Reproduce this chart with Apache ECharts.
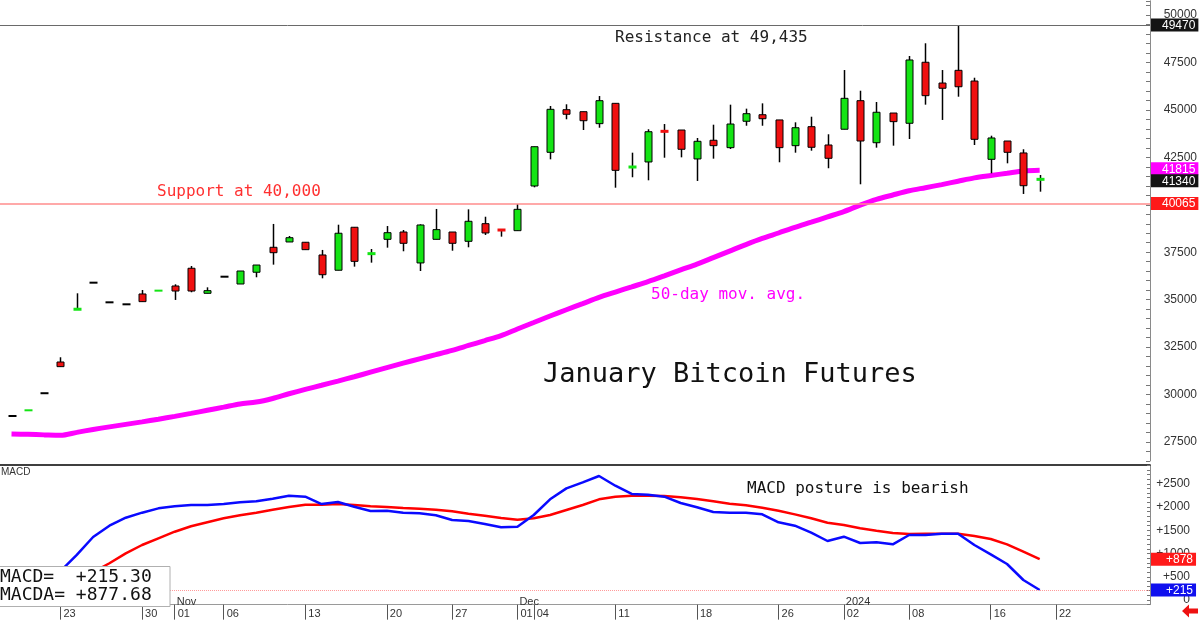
<!DOCTYPE html>
<html>
<head>
<meta charset="utf-8">
<title>January Bitcoin Futures</title>
<script src="https://cdn.jsdelivr.net/npm/echarts@6/dist/echarts.min.js"></script>
<style>
  html, body { margin: 0; padding: 0; background: #fff; }
  #chart { width: 1200px; height: 621px; }
</style>
</head>
<body>
<div id="chart"></div>
<script>
// daily bars, Oct 18 2023 .. Jan 19 2024 (index = trading day)
const opens = [28870, 29170, 30070, 31715, 34495, 35895, 34860, 34755, 35300, 35475,
  35720, 36655, 35335, 36210, 35825, 36445, 37760, 38040, 38025, 37355,
  36550, 38815, 37425, 38180, 38565, 36935, 38180, 38565, 38075, 39005,
  38670, 38635, 40990, 42765, 45010, 44905, 44275, 45345, 41990, 42255,
  43870, 43940, 42415, 43400, 43010, 44400, 44745, 44470, 43115, 44115,
  43150, 43980, 45485, 43270, 44835, 44295, 47510, 46415, 47085, 46520,
  42395, 43360, 42730, 41340];
const closes = [28870, 29170, 30070, 31470, 34495, 35895, 34860, 34755, 34895, 35475,
  35455, 35455, 35475, 36210, 36510, 36825, 37475, 38265, 37635, 36315,
  38500, 37020, 37425, 38530, 37970, 38935, 38690, 37970, 39130, 38515,
  38670, 39760, 43060, 45030, 44770, 44430, 45485, 41815, 41990, 43850,
  43870, 42925, 43345, 43115, 44255, 44800, 44535, 43010, 44060, 43030,
  42450, 45610, 43360, 44875, 44380, 47630, 45750, 46140, 46220, 43450,
  43520, 42765, 41005, 41340];
const lows = [28870, 29170, 30070, 31470, 34495, 35895, 34860, 34755, 34895, 35475,
  34985, 35390, 35335, 36210, 35825, 36180, 36845, 38040, 37635, 36125,
  36550, 36740, 36950, 37740, 37550, 36510, 38180, 37580, 37760, 38410,
  38320, 38635, 40920, 42395, 44505, 43940, 44060, 40900, 41450, 41290,
  42480, 42500, 41255, 42430, 42940, 44165, 44165, 42240, 42745, 42850,
  41925, 43980, 41080, 43010, 43115, 43465, 45275, 44470, 45695, 43150,
  41660, 42185, 40570, 40690];
const highs = [28870, 29170, 30070, 31965, 35335, 35895, 34860, 34755, 35510, 35475,
  35810, 36775, 35650, 36210, 36510, 36825, 38990, 38355, 38025, 37620,
  38950, 38815, 37670, 38880, 38670, 38970, 39780, 38565, 39760, 39370,
  38700, 40040, 43060, 45205, 45295, 44905, 45730, 45345, 42745, 43980,
  44255, 43940, 43520, 44220, 45275, 45065, 45345, 44470, 44345, 44640,
  43715, 47100, 46010, 45415, 44835, 47840, 48510, 47100, 49470, 46695,
  43640, 43360, 42925, 41570];
// colour of the bars where open == close
const dojiTone = ['k', 'g', 'k', '', 'g', 'k', 'k', 'k', '', 'g',
  '', '', '', 'k', '', '', '', '', '', '',
  '', '', 'g', '', '', '', '', '', '', '',
  'r', '', '', '', '', '', '', '', 'g', '',
  'r', '', '', '', '', '', '', '', '', '',
  '', '', '', '', '', '', '', '', '', '',
  '', '', '', 'g'];

const ma50 = [27923, 27902, 27875, 27854, 28007, 28160, 28297, 28429, 28561, 28703,
  28850, 29008, 29171, 29335, 29503, 29603, 29793, 30041, 30273, 30489,
  30710, 30937, 31179, 31421, 31653, 31880, 32101, 32328, 32586, 32844,
  33107, 33455, 33798, 34140, 34467, 34793, 35120, 35400, 35674, 35948,
  36253, 36569, 36875, 37217, 37560, 37902, 38224, 38513, 38809, 39083,
  39362, 39641, 39984, 40284, 40516, 40737, 40900, 41064, 41243, 41417,
  41543, 41659, 41775, 41815];

const macd = [null, null, 250, 620, 970, 1355, 1598, 1770, 1878, 1971,
  2014, 2043, 2043, 2064, 2101, 2122, 2179, 2243, 2222, 2064,
  2108, 2007, 1914, 1921, 1877, 1864, 1821, 1720, 1699, 1634,
  1563, 1577, 1828, 2165, 2401, 2530, 2667, 2458, 2280, 2265,
  2222, 2086, 1993, 1892, 1878, 1878, 1842, 1670, 1598, 1448,
  1269, 1362, 1226, 1240, 1197, 1398, 1398, 1426, 1426, 1183,
  982, 774, 430, 215.30];
const macdAvg = [null, null, null, 260, 420, 600, 790, 1004, 1183, 1327,
  1469, 1585, 1671, 1757, 1822, 1878, 1942, 2000, 2050, 2050,
  2064, 2043, 2014, 2000, 1978, 1964, 1942, 1907, 1857, 1814,
  1763, 1728, 1756, 1828, 1935, 2043, 2165, 2222, 2244, 2244,
  2236, 2208, 2172, 2122, 2072, 2036, 1985, 1921, 1842, 1757,
  1663, 1613, 1542, 1491, 1441, 1419, 1426, 1426, 1426, 1376,
  1312, 1197, 1039, 877.68];

// date axis
const tickDays = [3, 8, 10, 13, 18, 23, 27, 31, 32, 37, 42, 47, 51, 55, 60, 64];
const tickLabels = ['23', '30', '01', '06', '13', '20', '27', '01', '04', '11', '18', '26', '02', '08', '16', '22'];
const monthDays = [10, 31, 51];
const monthLabels = ['Nov', 'Dec', '2024'];

// levels marked on the price scale
const resistance = 49470;
const support = 40065;
const lastClose = 41340;
const lastMa = 41815;

const GREEN = '#14e414';
const RED = '#f01010';
const MAGENTA = '#ff00ff';
const NO_LINE = 'rgba(0,0,0,0)';
const MONO = '"DejaVu Sans Mono", "Liberation Mono", monospace';
const SANS = '"Liberation Sans", Arial, sans-serif';

const X_MIN = -0.705;
const X_MAX = 69.76;

const chart = echarts.init(document.getElementById('chart'), null, { renderer: 'canvas' });

const toneColor = { k: '#000', g: GREEN, r: RED };

function renderCandle(params, api) {
  const i = api.value(0);
  const o = api.value(1);
  const c = api.value(2);
  const lo = api.value(3);
  const hi = api.value(4);
  const cx = Math.round(api.coord([i, o])[0]) + 0.5;
  const yO = api.coord([i, o])[1];
  const yC = api.coord([i, c])[1];
  const yL = api.coord([i, lo])[1];
  const yH = api.coord([i, hi])[1];
  const children = [];

  if (hi > lo) {
    children.push({
      type: 'line',
      shape: { x1: cx, y1: yH, x2: cx, y2: yL },
      style: { stroke: '#000', lineWidth: 1.5 }
    });
  }

  if (o !== c) {
    const top = Math.min(yO, yC);
    children.push({
      type: 'rect',
      shape: { x: cx - 3.5, y: top, width: 7, height: Math.abs(yC - yO) },
      style: { fill: c > o ? GREEN : RED, stroke: '#000', lineWidth: 1 }
    });
  } else {
    const tone = toneColor[dojiTone[params.dataIndex]] || '#000';
    const thick = hi > lo ? 3 : 2;
    children.push({
      type: 'rect',
      shape: { x: cx - 4, y: yO - thick / 2, width: 8, height: thick },
      style: { fill: tone }
    });
  }
  return { type: 'group', children };
}

// value tag just right of the scale; shift > 0 lifts the tag, < 0 lowers it
function sideLabel(text, bg, padLeft, shift = 0) {
  return {
    show: true,
    position: 'end',
    distance: 1,
    formatter: '{v|' + text + '}',
    padding: shift > 0 ? [0, 0, 2 * shift, 0] : [-2 * shift, 0, 0, 0],
    rich: {
      v: {
        color: '#fff',
        fontFamily: SANS,
        fontSize: 12,
        lineHeight: 11,
        backgroundColor: bg,
        padding: [1, 3, 0, padLeft]
      }
    }
  };
}

const hiddenX = (gridIndex) => ({
  type: 'value', gridIndex, min: X_MIN, max: X_MAX, show: false
});

const option = {
  backgroundColor: '#fff',
  animation: false,
  grid: [
    // price panel: 50000 sits at y=15, 0.018978 px per point
    { left: 0, right: 50, top: 0.77, height: 460.2, outerBoundsMode: 'none' },
    // MACD panel: 0 sits at y=600, 0.0465 px per point
    { left: 0, right: 50, top: 465.15, height: 139.5, outerBoundsMode: 'none' }
  ],
  xAxis: [
    hiddenX(0),
    {
      type: 'value', gridIndex: 1, min: X_MIN, max: X_MAX, position: 'bottom',
      axisLine: { show: true, onZero: false, lineStyle: { color: '#9a9a9a', width: 1 } },
      axisTick: { show: true, length: 15, customValues: tickDays, lineStyle: { color: '#555', width: 1 } },
      axisLabel: {
        customValues: tickDays,
        formatter: (v) => tickLabels[tickDays.indexOf(v)] || '',
        align: 'left',
        padding: [0, 0, 0, 3],
        margin: 4,
        fontFamily: SANS,
        fontSize: 11,
        color: '#333'
      },
      splitLine: { show: false }
    },
    {
      type: 'value', gridIndex: 1, min: X_MIN, max: X_MAX, position: 'bottom',
      axisLine: { show: false },
      axisTick: { show: false },
      axisLabel: {
        inside: true,
        customValues: monthDays,
        formatter: (v) => monthLabels[monthDays.indexOf(v)] || '',
        align: 'left',
        padding: [0, 0, 0, 2],
        margin: -3,
        fontFamily: SANS,
        fontSize: 11,
        color: '#333'
      },
      splitLine: { show: false }
    },
    {
      type: 'value', gridIndex: 1, min: X_MIN, max: X_MAX, position: 'top',
      axisLine: { show: true, onZero: false, lineStyle: { color: '#000', width: 1.5 } },
      axisTick: { show: false },
      axisLabel: { show: false },
      splitLine: { show: false }
    }
  ],
  yAxis: [
    {
      type: 'value', gridIndex: 0, position: 'right',
      min: 26500, max: 50750, interval: 500,
      axisLine: { show: true, onZero: false, lineStyle: { color: '#8a8a8a' } },
      axisTick: { show: true, inside: true, length: 4, lineStyle: { color: '#777' } },
      axisLabel: {
        formatter: (v) => (v % 2500 === 0 ? String(v) : ''),
        align: 'right',
        margin: 47,
        fontFamily: SANS,
        fontSize: 12,
        color: '#333'
      },
      splitLine: { show: false }
    },
    {
      type: 'value', gridIndex: 1, position: 'right',
      min: -100, max: 2900, interval: 100,
      axisLine: { show: true, onZero: false, lineStyle: { color: '#8a8a8a' } },
      axisTick: { show: true, inside: true, length: 3, lineStyle: { color: '#777' } },
      axisLabel: {
        formatter: (v) => (v % 500 === 0 && v >= 0 ? (v > 0 ? '+' + v : '0') : ''),
        align: 'right',
        margin: 40,
        fontFamily: SANS,
        fontSize: 12,
        color: '#333'
      },
      splitLine: { show: false }
    }
  ],
  series: [
    {
      name: '50-day',
      type: 'line',
      xAxisIndex: 0,
      yAxisIndex: 0,
      data: ma50.map((v, i) => [i, v]),
      smooth: 0.3,
      showSymbol: false,
      lineStyle: { color: MAGENTA, width: 5 },
      z: 1,
      markLine: {
        silent: true,
        symbol: 'none',
        animation: false,
        data: [
          { yAxis: resistance, lineStyle: { color: '#6a6a6a', width: 1, type: 'solid' },
            label: sideLabel(String(resistance), '#141414', 11) },
          { yAxis: support, lineStyle: { color: '#ff8c8c', width: 1.5, type: 'solid' },
            label: sideLabel(String(support), '#ff1a1a', 11) },
          { yAxis: lastMa, lineStyle: { color: NO_LINE, width: 0 },
            label: sideLabel(String(lastMa), MAGENTA, 11, 1.5) },
          { yAxis: lastClose, lineStyle: { color: NO_LINE, width: 0 },
            label: sideLabel(String(lastClose), '#141414', 11, -1.5) }
        ]
      }
    },
    {
      name: 'candles',
      type: 'custom',
      xAxisIndex: 0,
      yAxisIndex: 0,
      renderItem: renderCandle,
      encode: { x: 0, y: [1, 2, 3, 4] },
      data: opens.map((o, i) => [i, o, closes[i], lows[i], highs[i]]),
      z: 3
    },
    {
      name: 'MACDA',
      type: 'line',
      xAxisIndex: 1,
      yAxisIndex: 1,
      data: macdAvg.map((v, i) => [i, v]),
      showSymbol: false,
      lineStyle: { color: '#ff0000', width: 2.5 },
      markLine: {
        silent: true,
        symbol: 'none',
        animation: false,
        data: [
          { yAxis: macdAvg[macdAvg.length - 1], lineStyle: { color: NO_LINE, width: 0 },
            label: sideLabel('+' + Math.round(macdAvg[macdAvg.length - 1]), '#ff1a1a', 15) }
        ]
      }
    },
    {
      name: 'MACD',
      type: 'line',
      xAxisIndex: 1,
      yAxisIndex: 1,
      data: macd.map((v, i) => [i, v]),
      showSymbol: false,
      lineStyle: { color: '#0a0aff', width: 2.5 },
      markLine: {
        silent: true,
        symbol: 'none',
        animation: false,
        data: [
          { yAxis: macd[macd.length - 1], lineStyle: { color: '#ff9a9a', width: 1, type: 'dotted' },
            label: sideLabel('+' + Math.round(macd[macd.length - 1]), '#1010ee', 15) }
        ]
      }
    }
  ],
  graphic: [
    { type: 'text', x: 615, y: 38, z: 50,
      style: { text: 'Resistance at 49,435', font: '16px ' + MONO, fill: '#222', verticalAlign: 'middle' } },
    { type: 'text', x: 157, y: 192, z: 50,
      style: { text: 'Support at 40,000', font: '16px ' + MONO, fill: '#ff3030', verticalAlign: 'middle' } },
    { type: 'text', x: 651, y: 295, z: 50,
      style: { text: '50-day mov. avg.', font: '16px ' + MONO, fill: MAGENTA, verticalAlign: 'middle' } },
    { type: 'text', x: 543, y: 375, z: 50,
      style: { text: 'January Bitcoin Futures', font: '27px ' + MONO, fill: '#111', verticalAlign: 'middle' } },
    { type: 'text', x: 747, y: 489, z: 50,
      style: { text: 'MACD posture is bearish', font: '16px ' + MONO, fill: '#111', verticalAlign: 'middle' } },
    { type: 'text', x: 1, y: 472, z: 50,
      style: { text: 'MACD', font: '10px ' + SANS, fill: '#333', verticalAlign: 'middle' } },
    // readout box over the left end of the MACD panel
    { type: 'rect', z: 100, zlevel: 1, shape: { x: -1, y: 566.5, width: 171, height: 40 },
      style: { fill: '#fff', stroke: '#b0b0b0', lineWidth: 1 } },
    { type: 'text', z: 101, zlevel: 1, x: 0, y: 577,
      style: { text: 'MACD=  +' + macd[macd.length - 1].toFixed(2), font: '18px ' + MONO, fill: '#111', verticalAlign: 'middle' } },
    { type: 'text', z: 101, zlevel: 1, x: 0, y: 595,
      style: { text: 'MACDA= +' + macdAvg[macdAvg.length - 1].toFixed(2), font: '18px ' + MONO, fill: '#111', verticalAlign: 'middle' } },
    {
      type: 'polygon', z: 100,
      shape: { points: [[1182, 611], [1189, 604.5], [1189, 608.5], [1198, 608.5], [1198, 613.5], [1189, 613.5], [1189, 617.5]] },
      style: { fill: '#ee1111' }
    }
  ]
};

chart.setOption(option);
window.addEventListener('resize', () => chart.resize());
</script>
</body>
</html>
